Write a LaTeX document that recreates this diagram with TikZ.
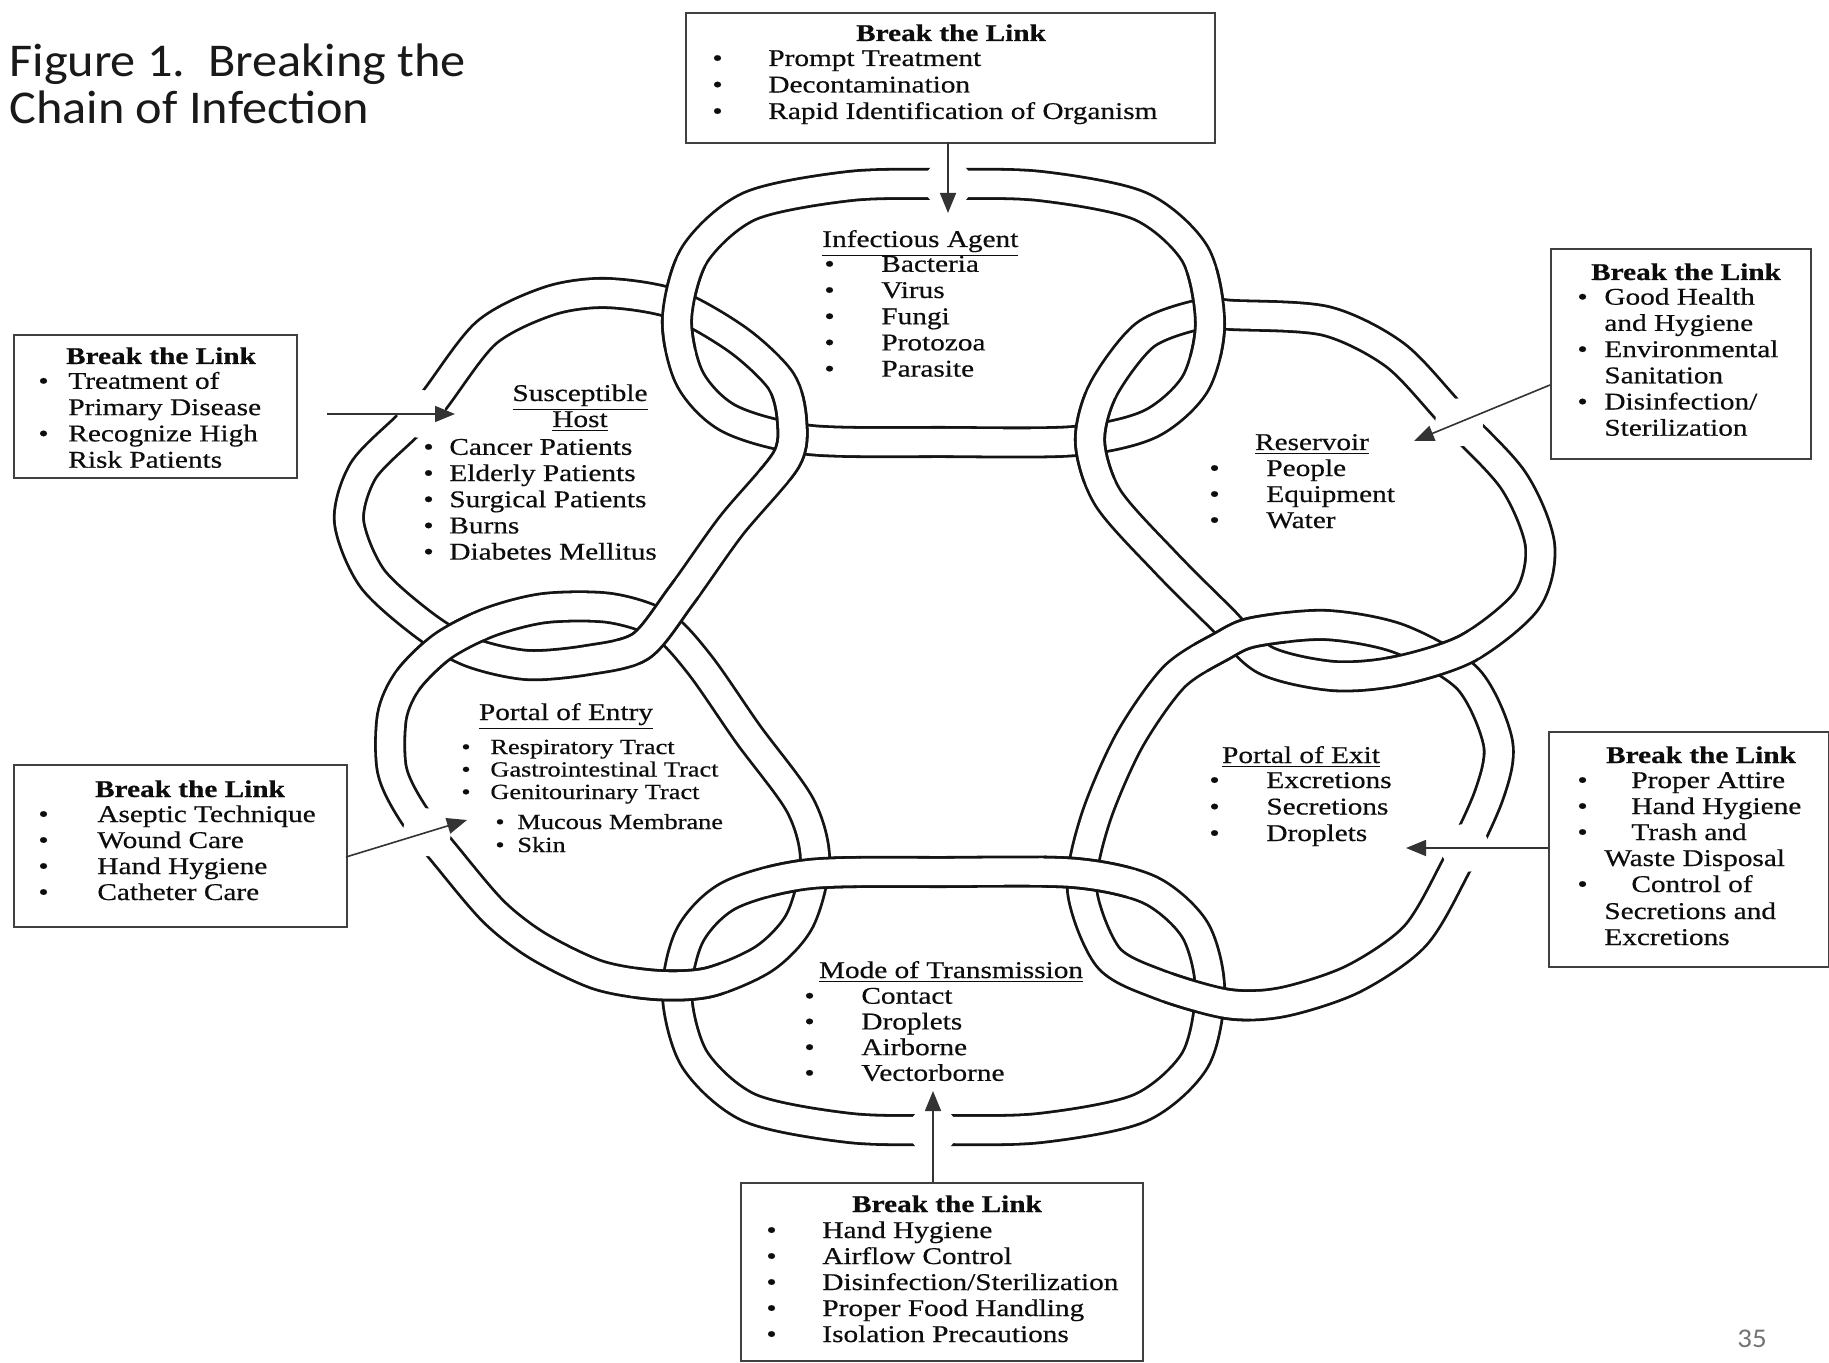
\documentclass[tikz,border=0pt]{standalone}
\usepackage{fontspec}
\setmainfont[FakeStretch=1.22, FakeBold=0.5]{Liberation Serif}
\newfontfamily\titlefont[FakeStretch=1.07]{Carlito}
\usetikzlibrary{arrows.meta,intersections}
\tikzset{
  link/.style={line width=1.4pt, draw=black!92, double=white, double distance=13.2pt},
  linkout/.style={line width=16pt, draw=black!92},
  linkin/.style={line width=13.2pt, draw=white},
  box/.style={draw=black!75, line width=0.9pt, fill=white, anchor=north west, inner sep=0pt},
  arr/.style={draw=black!80, line width=0.8pt, -{Triangle[length=10pt,width=8pt]}},
  txt/.style={inner sep=0pt, anchor=base west, font=\fontsize{12}{13}\selectfont, text=black!95},
  ctxt/.style={txt, anchor=base},
  hdr/.style={inner sep=0pt, anchor=base, font=\fontsize{12}{13}\selectfont\bfseries, text=black!95},
  stxt/.style={txt, font=\fontsize{10.8}{12}\selectfont},
  ttl/.style={inner sep=0pt, anchor=base west, font=\titlefont\fontsize{23.5}{28}\selectfont, text=black!90},
  gapfill/.style={fill=white, draw=none},
  pT/.style={insert path={plot[smooth cycle] coordinates {(945,442) (1075,441) (1150,424) (1195,384) (1210,324) (1195,254) (1140,206) (1040,186) (945,184) (850,186) (750,206) (695,254) (677,319) (690,379) (730,419) (810,440)}}},
  pB/.style={insert path={plot[smooth cycle] coordinates {(945,872) (1075,873) (1150,890) (1195,930) (1210,990) (1195,1060) (1140,1108) (1040,1128) (945,1130) (850,1128) (750,1108) (695,1060) (677,995) (690,935) (730,895) (810,874)}}},
  pS/.style={insert path={plot[smooth cycle] coordinates {(432,403) (486,333) (549,301) (606,293) (674,304) (738,340) (781,381) (792,421) (786,460) (731,526) (681,596) (641,646) (588,660) (527,665) (470,652) (424,625) (372,578) (349,521) (363,471) (404,429)}}},
  pR/.style={insert path={plot[smooth cycle] coordinates {(1233,315) (1326,321) (1395,355) (1452,415) (1513,480) (1540,545) (1527,600) (1468,648) (1397,671) (1333,676) (1265,660) (1220,617) (1165,562) (1108,498) (1090,442) (1103,390) (1145,335) (1201,314)}}},
  pE/.style={insert path={plot[smooth cycle] coordinates {(392,716) (408,680) (443,646) (490,622) (545,608) (610,608) (662,625) (700,665) (748,734) (800,805) (815,860) (800,920) (765,958) (710,982) (657,985) (598,975) (538,946) (494,912) (448,858) (412,812) (392,770)}}},
  pX/.style={insert path={plot[smooth cycle] coordinates {(1222,646) (1174,677) (1129,741) (1095,820) (1082,890) (1108,957) (1158,984) (1228,1004) (1283,1002) (1353,979) (1415,936) (1455,868) (1489,795) (1498,743) (1468,679) (1400,639) (1326,625) (1254,632)}}},
}
% redraw link #2 on top inside a circle round point #1
\newcommand{\overat}[2]{%
  \begin{scope}\clip #1 circle[radius=23pt]; \draw[linkout,#2]; \end{scope}%
  \begin{scope}\clip #1 circle[radius=25pt]; \draw[linkin,#2]; \end{scope}%
}
\begin{document}
\begin{tikzpicture}[x=0.5pt,y=-0.5pt]
\useasboundingbox (0,0) rectangle (1829,1363);
\fill[white] (0,0) rectangle (1829,1363);

% ---- the six links
\draw[link,pT];
\draw[link,pR];
\draw[link,pX];
\draw[link,pB];
\draw[link,pE];
\draw[link,pS];

% ---- over/under at crossings
\overat{(680,305)}{pT}
\overat{(790,435)}{pS}
\overat{(1208,314)}{pT}
\overat{(1091,438)}{pR}
\overat{(1240,639)}{pX}
\overat{(1432,659)}{pR}
\overat{(1086,875)}{pB}
\overat{(1210,999)}{pX}
\overat{(812,874)}{pB}
\overat{(679,984)}{pE}
\overat{(438,648)}{pE}
\overat{(660,623)}{pS}

% ---- boxes
\node[box, minimum width=264.5pt, minimum height=65pt] (bT) at (685,12) {};
\node[box, minimum width=141.5pt, minimum height=71.5pt] (bS) at (13,334) {};
\node[box, minimum width=130pt, minimum height=105pt] (bR) at (1550,248) {};
\node[box, minimum width=166.5pt, minimum height=81pt] (bE) at (13,764) {};
\node[box, minimum width=140pt, minimum height=117.5pt] (bX) at (1548,731) {};
\node[box, minimum width=201pt, minimum height=89pt] (bB) at (740,1182) {};

% ---- arrow end points
\coordinate (tipT) at (948,213);
\coordinate (stT) at (948,142);
\coordinate (stS) at (327,414);
\coordinate (tipS) at (455,414);
\coordinate (stE) at (346,857);
\coordinate (tipE) at (467,820);
\coordinate (stR) at (1550,385);
\coordinate (tipR) at (1414,441);
\coordinate (stX) at (1548,848);
\coordinate (tipX) at (1406,848);
\coordinate (stB) at (933,1182);
\coordinate (tipB) at (933,1091);

% ---- gaps in the links where arrows pass
\path[name path=nT, pT]; \path[name path=aT] (stT) -- (tipT);
\fill[gapfill, name intersections={of=nT and aT, by=gT}] (gT) circle[radius=12pt];
\path[name path=nS, pS]; \path[name path=aS] (stS) -- (tipS);
\fill[gapfill, name intersections={of=nS and aS, by=gS}] (gS) circle[radius=12pt];
\path[name path=nE, pE]; \path[name path=aE] (stE) -- (tipE);
\fill[gapfill, name intersections={of=nE and aE, by=gE}] (gE) circle[radius=12pt];
\path[name path=nR, pR]; \path[name path=aR] (stR) -- (tipR);
\fill[gapfill, name intersections={of=nR and aR, by=gR}] (gR) circle[radius=12pt];
\path[name path=nX, pX]; \path[name path=aX] (stX) -- (tipX);
\fill[gapfill, name intersections={of=nX and aX, by=gX}] (gX) circle[radius=12pt];
\path[name path=nB, pB]; \path[name path=aB] (stB) -- (tipB);
\fill[gapfill, name intersections={of=nB and aB, by=gB}] (gB) circle[radius=12pt];

% ---- arrows
\draw[arr] (stT) -- (tipT);
\draw[arr] (stS) -- (tipS);
\draw[arr] (stE) -- (tipE);
\draw[arr] (stR) -- (tipR);
\draw[arr] (stX) -- (tipX);
\draw[arr] (stB) -- (tipB);

% ---- title and page number
\node[ttl] (title1) at (9,77) {Figure 1.\ \ Breaking the};
\node[ttl] (title2) at (9,124) {Chain of Infection};
\node[inner sep=0pt, font=\titlefont\fontsize{13.5}{16}\selectfont, text=black!55] (pg) at (1752,1339) {35};

% ---- top box
\node[hdr] (hT) at (951,41) {Break the Link};
\foreach \t [count=\i] in {Prompt Treatment,Decontamination,Rapid Identification of Organism}{
  \node[txt] (bTb\i) at (712,39.5+26.5*\i) {\textbullet};
  \node[txt] (bTt\i) at (768,39.5+26.5*\i) {\t};
}

% ---- left box (Susceptible Host)
\node[hdr] (hS) at (161,364) {Break the Link};
\node[txt] (bSb1) at (38,388.8) {\textbullet};
\node[txt] (bSb3) at (38,441.4) {\textbullet};
\foreach \t [count=\i] in {Treatment of,Primary Disease,Recognize High,Risk Patients}{
  \node[txt] (bSt\i) at (68,362.5+26.3*\i) {\t};
}

% ---- right box (Reservoir)
\node[hdr] (hR) at (1686,280) {Break the Link};
\node[txt] (bRb1) at (1577,304.7) {\textbullet};
\node[txt] (bRb3) at (1577,357.1) {\textbullet};
\node[txt] (bRb5) at (1577,409.5) {\textbullet};
\foreach \t [count=\i] in {Good Health,and Hygiene,Environmental,Sanitation,Disinfection/,Sterilization}{
  \node[txt] (bRt\i) at (1604,278.5+26.2*\i) {\t};
}

% ---- left lower box (Portal of Entry)
\node[hdr] (hE) at (190,797) {Break the Link};
\foreach \t [count=\i] in {Aseptic Technique,Wound Care,Hand Hygiene,Catheter Care}{
  \node[txt] (bEb\i) at (38,796+26*\i) {\textbullet};
  \node[txt] (bEt\i) at (97,796+26*\i) {\t};
}

% ---- right lower box (Portal of Exit)
\node[hdr] (hX) at (1701,763) {Break the Link};
\node[txt] (bXb1) at (1577,788) {\textbullet};
\node[txt] (bXb2) at (1577,814) {\textbullet};
\node[txt] (bXb3) at (1577,840) {\textbullet};
\node[txt] (bXb5) at (1577,892) {\textbullet};
\node[txt] (bXt1) at (1631,788) {Proper Attire};
\node[txt] (bXt2) at (1631,814) {Hand Hygiene};
\node[txt] (bXt3) at (1631,840) {Trash and};
\node[txt] (bXt4) at (1604,866) {Waste Disposal};
\node[txt] (bXt5) at (1631,892) {Control of};
\node[txt] (bXt6) at (1604,919) {Secretions and};
\node[txt] (bXt7) at (1604,945) {Excretions};

% ---- bottom box (Mode of Transmission)
\node[hdr] (hB) at (947,1212) {Break the Link};
\foreach \t [count=\i] in {Hand Hygiene,Airflow Control,Disinfection/Sterilization,Proper Food Handling,Isolation Precautions}{
  \node[txt] (bBb\i) at (766,1212+26*\i) {\textbullet};
  \node[txt] (bBt\i) at (822,1212+26*\i) {\t};
}

% ---- texts inside the links
\node[txt] (lT) at (822,247) {\underline{Infectious Agent}};
\foreach \t [count=\i] in {Bacteria,Virus,Fungi,Protozoa,Parasite}{
  \node[txt] (lTb\i) at (824,245.6+26.2*\i) {\textbullet};
  \node[txt] (lTt\i) at (881,245.6+26.2*\i) {\t};
}
\node[ctxt] (lS1) at (580,401) {\underline{Susceptible}};
\node[ctxt] (lS2) at (580,427) {\underline{Host}};
\foreach \t [count=\i] in {Cancer Patients,Elderly Patients,Surgical Patients,Burns,Diabetes Mellitus}{
  \node[txt] (lSb\i) at (423,428.6+26.2*\i) {\textbullet};
  \node[txt] (lSt\i) at (449,428.6+26.2*\i) {\t};
}
\node[ctxt] (lR) at (1312,450) {\underline{Reservoir}};
\foreach \t [count=\i] in {People,Equipment,Water}{
  \node[txt] (lRb\i) at (1209,450+26*\i) {\textbullet};
  \node[txt] (lRt\i) at (1266,450+26*\i) {\t};
}
\node[ctxt] (lE) at (566,720) {\underline{Portal of Entry}};
\foreach \t [count=\i] in {Respiratory Tract,Gastrointestinal Tract,Genitourinary Tract}{
  \node[stxt] (lEb\i) at (461,731.5+22.5*\i) {\textbullet};
  \node[stxt] (lEt\i) at (490,731.5+22.5*\i) {\t};
}
\node[stxt] (lEb4) at (495,829) {\textbullet};
\node[stxt] (lEt4) at (517,829) {Mucous Membrane};
\node[stxt] (lEb5) at (495,852) {\textbullet};
\node[stxt] (lEt5) at (517,852) {Skin};
\node[ctxt] (lX) at (1301,763) {\underline{Portal of Exit}};
\foreach \t [count=\i] in {Excretions,Secretions,Droplets}{
  \node[txt] (lXb\i) at (1209,761.5+26.5*\i) {\textbullet};
  \node[txt] (lXt\i) at (1266,761.5+26.5*\i) {\t};
}
\node[ctxt] (lB) at (951,978) {\underline{Mode of Transmission}};
\foreach \t [count=\i] in {Contact,Droplets,Airborne,Vectorborne}{
  \node[txt] (lBb\i) at (804,978+25.7*\i) {\textbullet};
  \node[txt] (lBt\i) at (861,978+25.7*\i) {\t};
}
\end{tikzpicture}
\end{document}
